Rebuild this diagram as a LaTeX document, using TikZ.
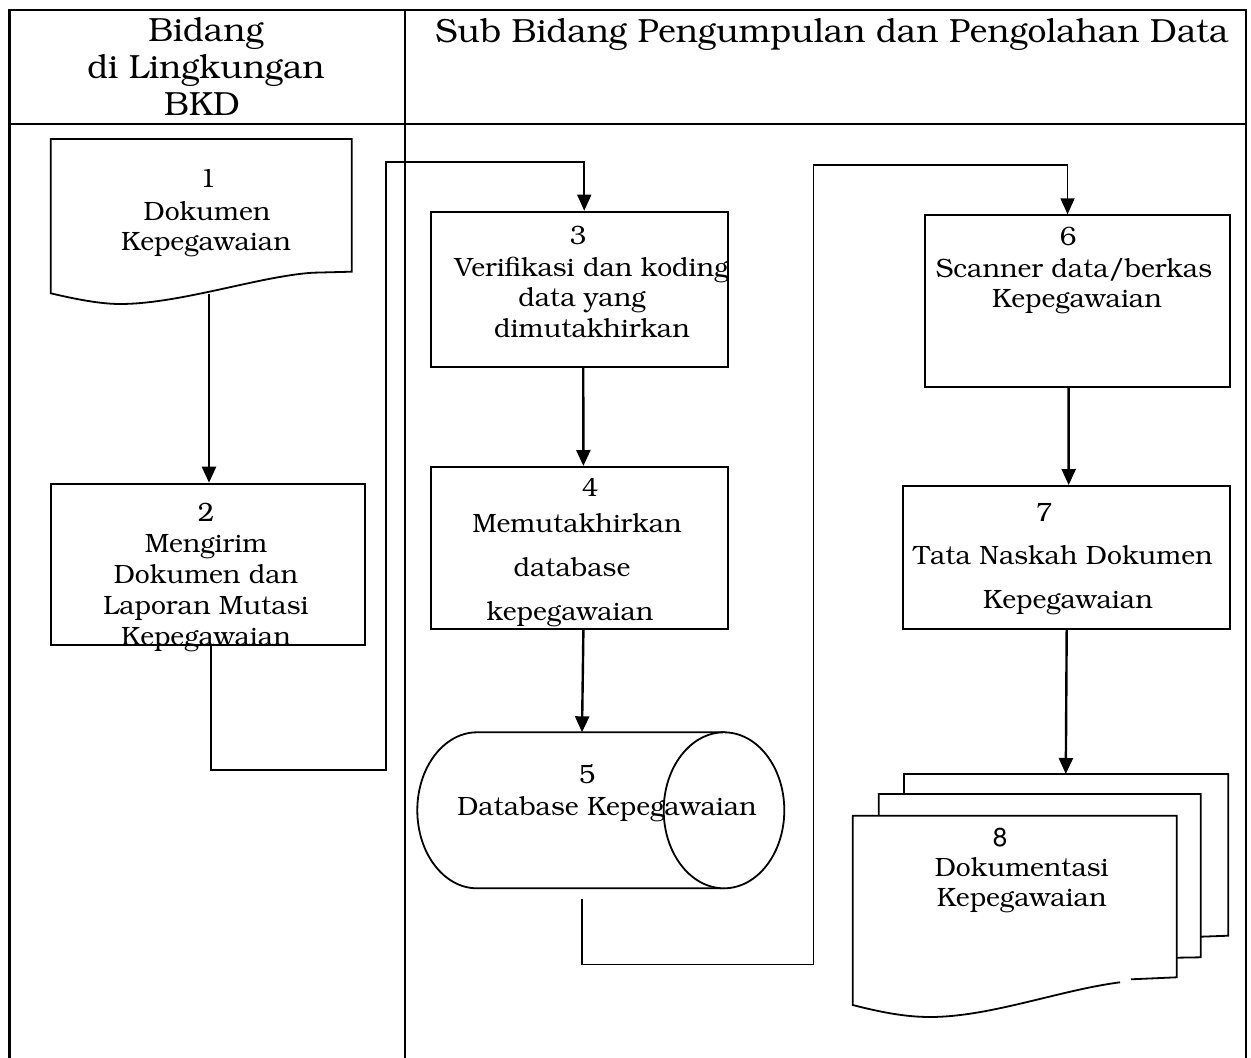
\documentclass[tikz,border=0pt]{standalone}
\usepackage[T1]{fontenc}
\usepackage{bookman}
\usetikzlibrary{arrows.meta,calc}
\newcommand{\bodyfont}{\fontsize{26.5}{31}\selectfont}
\newcommand{\hdrfont}{\fontsize{33.5}{36}\selectfont}
\newcommand{\numfont}{\fontfamily{phv}\fontsize{26}{30}\selectfont}
\tikzset{
  tbl/.style={line width=2.4pt},
  shp/.style={draw, line width=1.8pt, fill=white, line join=miter},
  boxn/.style={draw, line width=1.8pt, inner sep=0pt, anchor=north west},
  arr/.style={line width=2.4pt, -{Triangle[length=16pt,width=14pt]}},
  conn/.style={line width=1.6pt, -{Triangle[length=16pt,width=14pt]}},
  lbl/.style={anchor=base, inner sep=0pt, font=\bodyfont},
  hdr/.style={anchor=base, inner sep=0pt, font=\hdrfont},
}
\begin{document}
\begin{tikzpicture}[x=1pt,y=-1pt]
\useasboundingbox (0,0) rectangle (1251,1058);
% table
\draw[tbl] (9.3,1058) -- (9.3,10) -- (1246,10) -- (1246,1058);
\draw[tbl] (9.3,124) -- (1246,124);
\draw[tbl] (405,10) -- (405,1058);
\node[hdr] (h1) at (206,41) {Bidang};
\node[hdr] (h2) at (206,78) {di Lingkungan};
\node[hdr] (h3) at (202,115) {BKD};
\node[hdr] (h4) at (832,42) {Sub Bidang Pengumpulan dan Pengolahan Data};

% shape 1: document
\draw[shp] (50.7,139) -- (351.7,139) -- (351.7,271.7) -- (313,272.7)
  .. controls (260,276) and (180,304) .. (120,304)
  .. controls (100,304) and (75,299) .. (50.7,293.3) -- cycle;
\coordinate (w1) at (209,294);
\node[lbl] (t1a) at (208,187) {1};
\node[lbl] (t1b) at (207,220) {Dokumen};
\node[lbl] (t1c) at (206,250) {Kepegawaian};

% box 2
\node[boxn, minimum width=314pt, minimum height=161.3pt] (b2) at (50,482.7) {};
\node[lbl] (t2a) at (206,521) {2};
\node[lbl] (t2b) at (206,552) {Mengirim};
\node[lbl] (t2c) at (206,583) {Dokumen dan};
\node[lbl] (t2d) at (206,614) {Laporan Mutasi};
\node[lbl] (t2e) at (206,645) {Kepegawaian};

% box 3
\node[boxn, minimum width=296.7pt, minimum height=155.3pt] (b3) at (430,210.7) {};
\node[lbl] (t3a) at (578,244) {3};
\node[lbl] (t3b) at (591.5,276) {Verifikasi dan koding};
\node[lbl] (t3c) at (582,306) {data yang};
\node[lbl] (t3d) at (592,337.5) {dimutakhirkan};

% box 4
\node[boxn, minimum width=297pt, minimum height=162.3pt] (b4) at (430,466) {};
\node[lbl] (t4a) at (590,496.7) {4};
\node[lbl] (t4b) at (577,532.7) {Memutakhirkan};
\node[lbl] (t4c) at (572,576) {database};
\node[lbl] (t4d) at (570,620) {kepegawaian};

% cylinder 5
\draw[shp] (477,732.3) -- (724,732.3) -- (724,888.3) -- (477,888.3)
  arc[start angle=270, end angle=90, x radius=59.7, y radius=-78] -- cycle;
\draw[shp] (724,810.3) ellipse[x radius=60.3, y radius=78];
\coordinate (c5t) at (582,732.3);
\coordinate (c5b) at (582,899);
\node[lbl] (t5a) at (587,783) {5};
\node[lbl] (t5b) at (607,815) {Database Kepegawaian};

% box 6
\node[boxn, minimum width=305.3pt, minimum height=171.7pt] (b6) at (924,214.3) {};
\node[lbl] (t6a) at (1068,245) {6};
\node[lbl] (t6b) at (1074,277.3) {Scanner data/berkas};
\node[lbl] (t6c) at (1077,307.3) {Kepegawaian};

% box 7
\node[boxn, minimum width=327pt, minimum height=143.3pt] (b7) at (902.3,485) {};
\node[lbl] (t7a) at (1044,521.7) {7};
\node[lbl] (t7b) at (1063,564) {Tata Naskah Dokumen};
\node[lbl] (t7c) at (1068,608.3) {Kepegawaian};

% multi-document 8
\draw[shp] (904,774) -- (1228.3,774) -- (1228.3,935.7) -- (1200.7,936.7) -- (904,936.7) -- cycle;
\draw[shp] (878.7,794) -- (1200.7,794) -- (1200.7,957.3) -- (1176.7,957.7) -- (878.7,957.7) -- cycle;
\fill[white] (852.7,815.7) -- (1176.7,815.7) -- (1176.7,977.3) -- (1120,982.3)
  .. controls (1060,990) and (990,1017) .. (930,1017)
  .. controls (905,1017) and (880,1012) .. (852.7,1005) -- cycle;
\draw[line width=1.8pt] (1131,979.3) -- (1176.7,977.3) -- (1176.7,815.7) -- (852.7,815.7) -- (852.7,1005)
  .. controls (880,1012) and (905,1017) .. (930,1017)
  .. controls (990,1017) and (1060,990) .. (1120,982.3);
\coordinate (d8t) at (1065.8,774);
\node[anchor=base, inner sep=0pt, font=\numfont] (t8a) at (1000,846) {8};
\node[lbl] (t8b) at (1021.7,876.7) {Dokumentasi};
\node[lbl] (t8c) at (1021.7,906) {Kepegawaian};

% connectors
\coordinate (j1) at (386,770);
\coordinate (j2) at (386,161.7);
\coordinate (j3) at (813.3,964.3);
\coordinate (j4) at (813.3,165);
\draw[arr] (w1) -- (w1 |- b2.north);
\draw[conn] ($(b2.south)+(3,0)$) |- (j1) -- (j2) -| ($(b3.north)+(5,0)$);
\draw[arr] ($(b3.south)+(4,0)$) -- ($(b4.north)+(4,0)$);
\draw[arr] ($(b4.south)+(4,0)$) -- (c5t);
\draw[conn] (c5b) |- (j3) -- (j4) -| ($(b6.north)+(-10,0)$);
\draw[arr] ($(b6.south)+(-9,0)$) -- ($(b7.north)+(2,0)$);
\draw[arr] (b7.south) -- (d8t);
\end{tikzpicture}
\end{document}
